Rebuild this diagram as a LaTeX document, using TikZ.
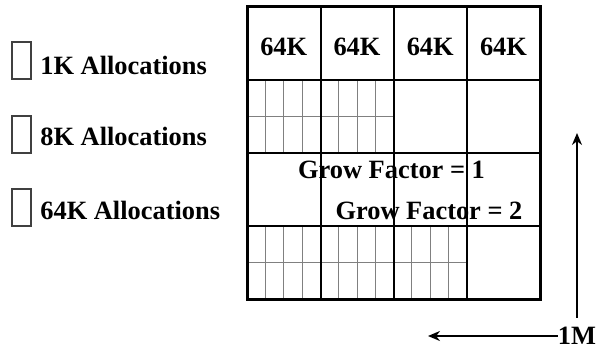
\documentclass[tikz,border=0pt]{standalone}
\usepackage{fontspec}
\setmainfont{Liberation Serif}
\usetikzlibrary{arrows.meta}
\tikzset{
  lbl/.style={font=\bfseries\fontsize{13.2}{15}\selectfont, inner sep=0},
  legbox/.style={draw=black!75, line width=0.6pt, minimum width=9.5pt, minimum height=18.5pt, inner sep=0},
  fine/.style={draw=black!50, line width=0.5pt},
  bold/.style={line width=1pt},
  arr/.style={line width=1pt, -{Stealth[length=6pt,width=5pt]}}
}
\begin{document}
\begin{tikzpicture}[x=0.5pt,y=-0.5pt]
            \useasboundingbox ( 0, 0 ) rectangle ( 596, 350 );

            % легенда
            \node [legbox] (box1) at ( 21.5, 60.5 ) {};
            \node [legbox] (box8) at ( 21.5, 134.5 ) {};
            \node [legbox] (box64) at ( 21.5, 207.5 ) {};
            \node [lbl, anchor=west] (leg1) at ( 40, 65 ) {1K Allocations};
            \node [lbl, anchor=west] (leg8) at ( 40, 136 ) {8K Allocations};
            \node [lbl, anchor=west] (leg64) at ( 40, 210 ) {64K Allocations};

            % мелкие блоки
            \foreach \x in {265.4, 283.75, 302.1, 338.75, 357, 375.25}
                \draw [fine] ( \x, 80 ) -- ( \x, 153 );
            \draw [fine] ( 247, 116.5 ) -- ( 393.5, 116.5 );
            \foreach \x in {265.4, 283.75, 302.1, 338.75, 357, 375.25, 411.9, 430.25, 448.6}
                \draw [fine] ( \x, 226 ) -- ( \x, 299 );
            \draw [fine] ( 247, 262.5 ) -- ( 467, 262.5 );

            % блоки по 64K
            \foreach \x in {320.5, 393.5, 467}
                \draw [bold] ( \x, 6 ) -- ( \x, 299 );
            \foreach \y in {80, 153, 226}
                \draw [bold] ( 247, \y ) -- ( 540, \y );
            \draw [line width=1.5pt] ( 247, 6 ) rectangle ( 540, 299 );

            % подписи
            \node [lbl] (blk1) at ( 283.75, 47 ) {64K};
            \node [lbl] (blk2) at ( 357, 47 ) {64K};
            \node [lbl] (blk3) at ( 430.25, 47 ) {64K};
            \node [lbl] (blk4) at ( 503.5, 47 ) {64K};
            \node [lbl] (grow1) at ( 391.5, 169.5 ) {Grow Factor = 1};
            \node [lbl] (grow2) at ( 429, 210.5 ) {Grow Factor = 2};

            % стрелки
            \node [lbl] (onem) at ( 577, 336 ) {1M};
            \coordinate (uptip) at ( 577, 133 );
            \coordinate (lefttip) at ( 428, 336 );
            \draw [arr] ([yshift=4.5pt]onem.north) -- (uptip);
            \draw [arr] (onem.west) -- (lefttip);
        \end{tikzpicture}
\end{document}
